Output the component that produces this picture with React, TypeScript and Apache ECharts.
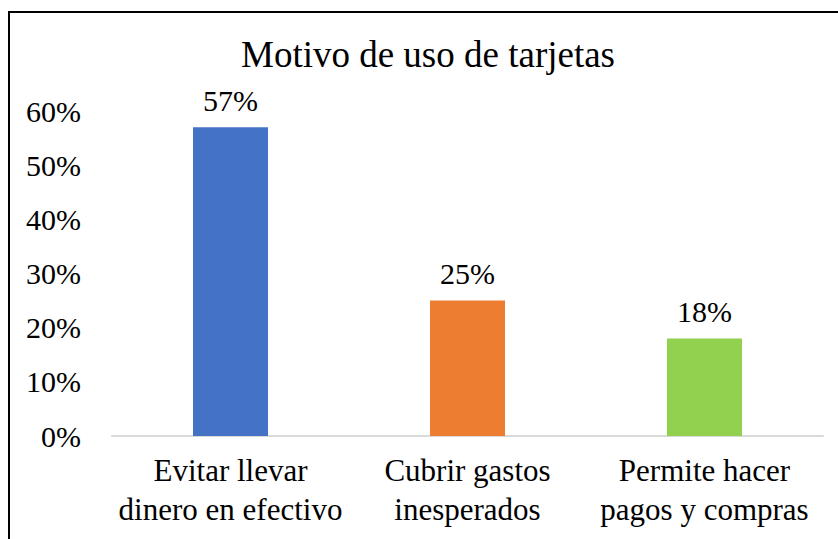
import React, { useEffect, useRef } from "react";
import * as echarts from "echarts";

const titleText = "Motivo de uso de tarjetas";
const categories = [
  "Evitar llevar\ndinero en efectivo",
  "Cubrir gastos\ninesperados",
  "Permite hacer\npagos y compras",
];
const values = [57, 25, 18];
const barColors = ["#4472C4", "#ED7D31", "#92D050"];
const yTicks = { min: 0, max: 60, interval: 10 };

const FONT = "Liberation Serif, Times New Roman, serif";

export default function App() {
  const ref = useRef<HTMLDivElement>(null);
  useEffect(() => {
    if (!ref.current) return;
    const chart = echarts.init(ref.current, undefined, { renderer: "svg" });
    chart.setOption({
      animation: false,
      backgroundColor: "#fff",
      textStyle: { fontFamily: FONT },
      title: {
        text: titleText,
        left: 428,
        textAlign: "center",
        top: 36,
        padding: 0,
        textStyle: { fontFamily: FONT, fontSize: 37, fontWeight: "normal", color: "#000" },
      },
      graphic: [
        {
          type: "rect",
          shape: { x: 9, y: 12, width: 1000, height: 1000 },
          style: { fill: "none", stroke: "#000", lineWidth: 2 },
          silent: true,
        },
      ],
      grid: { left: 112, right: 15, top: 111, bottom: 103, containLabel: false },
      xAxis: {
        type: "category",
        data: categories,
        axisLine: { show: true, lineStyle: { color: "#D9D9D9", width: 2 } },
        axisTick: { show: false },
        axisLabel: {
          fontFamily: FONT,
          fontSize: 31,
          color: "#000",
          lineHeight: 39,
          margin: 15,
          interval: 0,
        },
      },
      yAxis: {
        type: "value",
        min: yTicks.min,
        max: yTicks.max,
        interval: yTicks.interval,
        splitLine: { show: false },
        axisLine: { show: false },
        axisTick: { show: false },
        axisLabel: {
          formatter: "{value}%",
          fontFamily: FONT,
          fontSize: 30,
          color: "#000",
          margin: 31,
        },
      },
      series: [
        {
          type: "bar",
          data: values.map((v, i) => ({ value: v, itemStyle: { color: barColors[i] } })),
          barWidth: 75,
          label: {
            show: true,
            position: "top",
            distance: 12,
            formatter: "{c}%",
            fontFamily: FONT,
            fontSize: 30,
            color: "#000",
          },
        },
      ],
    });
    return () => chart.dispose();
  }, []);
  return (
    <div
      ref={ref}
      style={{ position: "absolute", left: 0, top: 0, width: 838, height: 539 }}
    />
  );
}
